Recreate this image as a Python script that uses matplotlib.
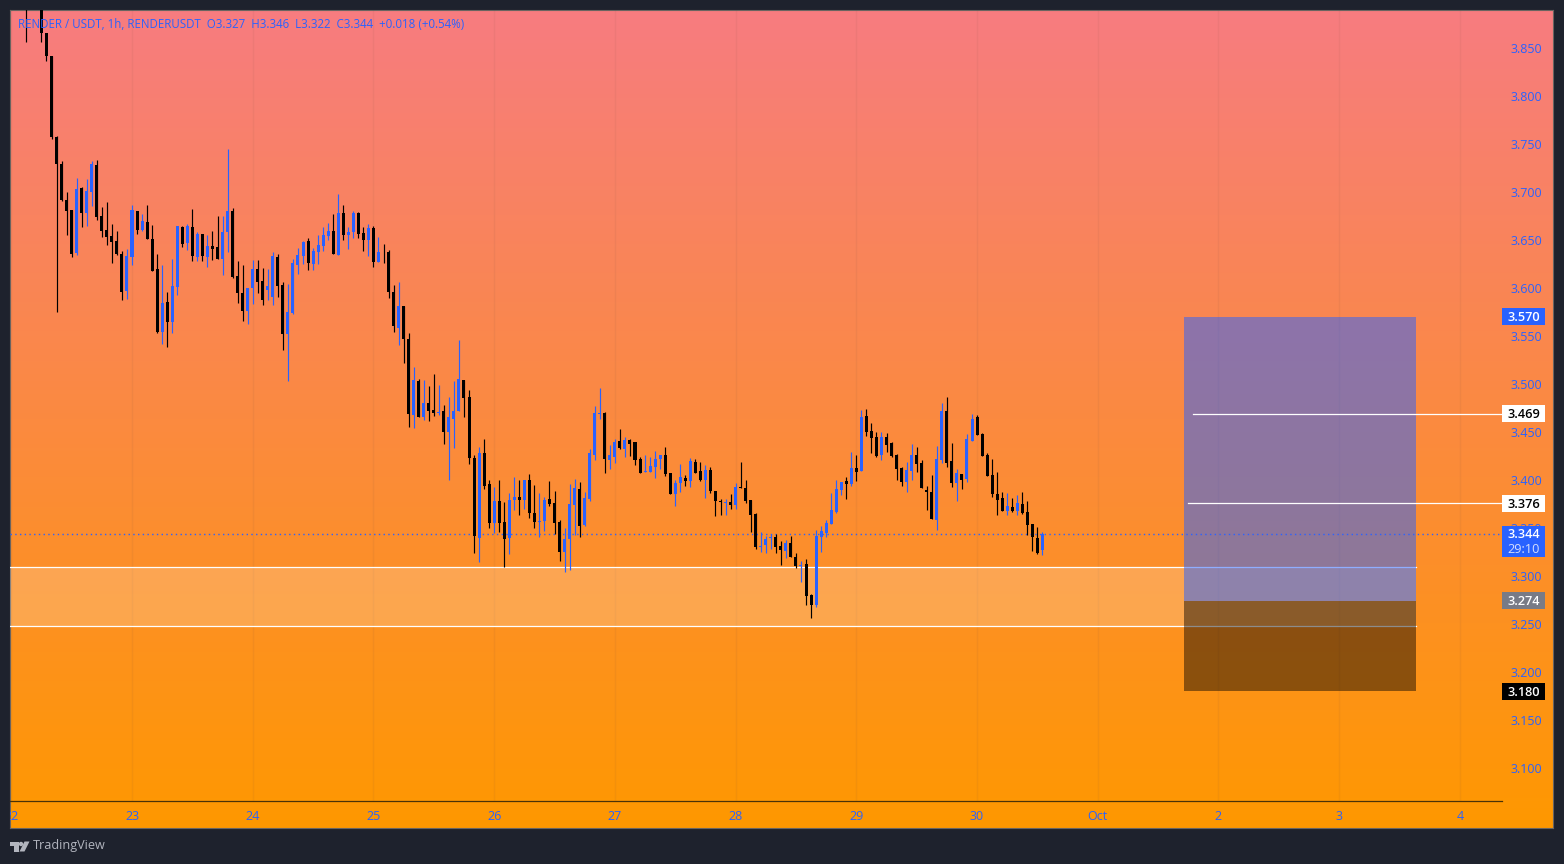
import numpy as np
import matplotlib
matplotlib.use('Agg')
import matplotlib.pyplot as plt
from matplotlib.patches import Rectangle, Circle, Polygon

plt.rcParams['font.family'] = ['Open Sans', 'DejaVu Sans']

# hourly candles, hour 0 = 23 Sep 00:00, last candle = 30 Sep 13:00
last_hour = 181
opens = [3.93,3.91,3.90,3.898,3.866,3.842,3.757,3.7295,3.692,3.681,3.636,3.704,3.678,3.70,3.728,3.675,3.66,3.654,3.649,3.6355,
 3.597,3.6325,3.68,3.66,3.669,3.651,3.62,3.5545,3.585,3.565,3.601,3.664,3.647,3.664,3.6325,3.656,3.6325,3.6435,3.6425,3.63,
 3.658,3.68,3.6125,3.595,3.576,3.60,3.62,3.607,3.598,3.5905,3.632,3.603,3.552,3.574,3.624,3.6333,3.649,3.625,3.6375,3.644,
 3.654,3.659,3.6345,3.678,3.655,3.658,3.678,3.6575,3.6505,3.662,3.6275,3.6375,3.637,3.5955,3.5583,3.5812,3.547,3.4677,3.5031,3.4656,
 3.4802,3.4729,3.4698,3.4719,3.45,3.4635,3.4719,3.504,3.4865,3.4229,3.3396,3.4281,3.3958,3.3552,3.3781,3.3562,3.3396,3.3792,3.3823,3.3792,
 3.40,3.3656,3.3562,3.3573,3.3802,3.376,3.3562,3.325,3.3385,3.374,3.3906,3.3531,3.3802,3.426,3.4688,3.4698,3.4208,3.424,3.4406,3.4323,
 3.4417,3.4396,3.4219,3.4083,3.4083,3.4135,3.4219,3.426,3.4073,3.3854,3.3969,3.4021,3.399,3.4188,3.4094,3.40,3.4104,3.3885,3.3781,3.376,
 3.377,3.374,3.3927,3.3917,3.3792,3.3646,3.3302,3.3323,3.3396,3.3406,3.3312,3.3261,3.3344,3.3198,3.3104,3.3125,3.2802,3.2698,3.3406,3.3448,
 3.3542,3.3667,3.3896,3.399,3.3958,3.4125,3.4094,3.4667,3.451,3.4448,3.426,3.4448,3.4385,3.426,3.4125,3.3979,3.4094,3.426,3.4177,3.3896,
 3.3875,3.3583,3.4208,3.4719,3.4198,3.3969,3.4062,3.401,3.4406,3.4656,3.4479,3.426,3.4052,3.3854,3.3812,3.3677,3.3719,3.3677,3.375,3.3667,
 3.3542,3.3396,3.327]
highs = [3.95,3.96,3.93,3.91,3.866,3.842,3.758,3.732,3.70,3.681,3.715,3.705,3.7135,3.732,3.733,3.684,3.69,3.667,3.659,3.6385,
 3.6405,3.6865,3.68,3.677,3.6865,3.666,3.6355,3.624,3.596,3.63,3.665,3.665,3.667,3.682,3.658,3.656,3.655,3.659,3.675,3.675,
 3.745,3.683,3.628,3.6235,3.60,3.629,3.629,3.621,3.62,3.6375,3.6355,3.606,3.604,3.63,3.6417,3.649,3.652,3.6417,3.655,3.664,
 3.6675,3.677,3.698,3.6865,3.6635,3.68,3.6795,3.6635,3.6665,3.6645,3.6535,3.646,3.64,3.6035,3.6063,3.5812,3.5531,3.5177,3.5052,3.5042,
 3.4979,3.5104,3.499,3.4781,3.4865,3.5031,3.5458,3.504,3.4937,3.426,3.4344,3.4427,3.40,3.3927,3.40,3.3771,3.3865,3.4031,3.40,3.40,
 3.4062,3.3948,3.3865,3.3823,3.399,3.3885,3.3583,3.35,3.3958,3.401,3.3979,3.3875,3.4323,3.4771,3.4958,3.4708,3.4365,3.4427,3.4531,3.4448,
 3.4427,3.4396,3.424,3.426,3.424,3.4302,3.426,3.434,3.4073,3.40,3.4167,3.4052,3.4229,3.4219,3.4187,3.4156,3.4135,3.3885,3.3802,3.3802,
 3.3854,3.3969,3.4187,3.40,3.3792,3.3656,3.3458,3.3417,3.3437,3.3437,3.3365,3.3375,3.3417,3.324,3.3156,3.3177,3.2812,3.3479,3.3521,3.3583,
 3.3865,3.40,3.3979,3.4031,3.4292,3.426,3.4729,3.474,3.4594,3.45,3.45,3.449,3.4396,3.4271,3.4135,3.4187,3.4375,3.4344,3.4208,3.3937,
 3.4052,3.4354,3.4802,3.4865,3.4385,3.4115,3.4062,3.4479,3.4687,3.4677,3.449,3.4281,3.4219,3.4083,3.3875,3.3865,3.3812,3.3844,3.3875,3.3781,
 3.3542,3.351,3.346]
lows = [3.8566,3.895,3.892,3.8566,3.836,3.755,3.575,3.691,3.655,3.632,3.634,3.664,3.665,3.685,3.671,3.653,3.645,3.626,3.634,3.5875,
 3.5885,3.624,3.656,3.659,3.651,3.618,3.553,3.542,3.539,3.553,3.593,3.643,3.64,3.6285,3.6285,3.6285,3.622,3.629,3.63,3.6135,
 3.638,3.6105,3.5845,3.566,3.563,3.583,3.595,3.582,3.5875,3.582,3.5905,3.5354,3.5035,3.573,3.6145,3.625,3.6188,3.619,3.625,3.639,
 3.65,3.635,3.6345,3.65,3.641,3.6525,3.6525,3.639,3.6335,3.6215,3.6275,3.6265,3.5895,3.5545,3.5406,3.5219,3.4552,3.4542,3.4656,3.4625,
 3.4615,3.4667,3.4677,3.4375,3.40,3.4333,3.4719,3.4656,3.4167,3.324,3.3146,3.3906,3.35,3.3448,3.3458,3.3097,3.3229,3.3687,3.3635,3.3698,
 3.3604,3.35,3.3406,3.3469,3.3729,3.3437,3.3156,3.3042,3.3062,3.3427,3.341,3.3521,3.3781,3.4208,3.4635,3.4073,3.4115,3.4177,3.4323,3.424,
 3.425,3.4156,3.4073,3.4083,3.4083,3.4021,3.4115,3.4042,3.3854,3.3729,3.3875,3.3937,3.3927,3.4073,3.399,3.3812,3.3865,3.3625,3.3635,3.3635,
 3.3698,3.3698,3.3917,3.376,3.3458,3.3281,3.325,3.324,3.3281,3.324,3.3115,3.3187,3.3198,3.3083,3.2937,3.2698,3.2562,3.2677,3.325,3.3406,
 3.3542,3.3656,3.3844,3.3802,3.3937,3.399,3.4094,3.4458,3.4281,3.424,3.4208,3.4292,3.424,3.40,3.3937,3.3875,3.40,3.4083,3.3917,3.3687,
 3.3594,3.3479,3.4177,3.4135,3.3927,3.3781,3.3906,3.3979,3.4406,3.4469,3.425,3.4042,3.3823,3.3635,3.3677,3.3635,3.3667,3.3635,3.3646,3.3427,
 3.326,3.3229,3.322]
closes = [3.91,3.90,3.898,3.866,3.842,3.757,3.7295,3.692,3.6805,3.635,3.703,3.678,3.701,3.7295,3.674,3.659,3.653,3.648,3.635,3.596,
 3.633,3.681,3.66,3.67,3.651,3.618,3.554,3.584,3.565,3.602,3.665,3.646,3.665,3.6335,3.656,3.6335,3.6435,3.641,3.63,3.658,
 3.68,3.6115,3.595,3.576,3.60,3.62,3.606,3.5875,3.602,3.633,3.602,3.552,3.575,3.626,3.634,3.648,3.626,3.639,3.645,3.6555,
 3.659,3.6355,3.678,3.655,3.658,3.678,3.6565,3.6495,3.662,3.6275,3.637,3.637,3.5955,3.56,3.5812,3.5469,3.4687,3.5042,3.4656,3.4802,
 3.4719,3.4698,3.4708,3.45,3.4656,3.4719,3.5052,3.4854,3.4229,3.3417,3.4281,3.3937,3.3552,3.3781,3.3552,3.3385,3.3792,3.3823,3.3792,3.40,
 3.3656,3.3562,3.3572,3.3792,3.375,3.3552,3.325,3.3385,3.375,3.3917,3.3521,3.3812,3.4281,3.4698,3.4698,3.4219,3.426,3.4396,3.4333,3.4417,
 3.4375,3.4208,3.4073,3.4094,3.4146,3.4219,3.426,3.4062,3.3854,3.3969,3.4031,3.399,3.4198,3.4073,3.40,3.4104,3.3885,3.3781,3.377,3.377,
 3.374,3.3927,3.3917,3.3781,3.3635,3.3302,3.3312,3.3385,3.3406,3.3302,3.3271,3.3344,3.3198,3.3104,3.3115,3.2792,3.2698,3.3417,3.3469,3.3552,
 3.3687,3.3906,3.3979,3.3958,3.4125,3.4083,3.4656,3.45,3.4437,3.425,3.4448,3.4365,3.425,3.4115,3.3979,3.4104,3.426,3.4167,3.3917,3.3875,
 3.3594,3.4219,3.4719,3.4177,3.3969,3.4073,3.40,3.4427,3.4635,3.4469,3.425,3.4042,3.3854,3.3792,3.3677,3.3729,3.3677,3.376,3.3656,3.3531,
 3.3406,3.324,3.344]

day_ticks = [-24,0,24,48,72,96,120,144,168,192,216,240,264]
day_labels = ['22','23','24','25','26','27','28','29','30','Oct','2','3','4']
price_ticks = [3.10,3.15,3.20,3.25,3.30,3.35,3.40,3.45,3.50,3.55,3.60,3.65,3.70,3.75,3.80,3.85]

zone_low, zone_high = 3.248, 3.309
target, entry, stop = 3.570, 3.274, 3.180
last_price = 3.344
mid_levels = [(3.469, 211.0), (3.376, 210.0)]
box_start, box_end = 209.1, 255.3

header = 'RENDER / USDT, 1h, RENDERUSDT  O3.327  H3.346  L3.322  C3.344  +0.018 (+0.54%)'

BLUE = '#2962ff'
PX_PER_HOUR = 5.03
W, H = 1564, 864

fig = plt.figure(figsize=(W/100, H/100), dpi=100, facecolor='#1e222d')

def rect(l, t, r, b):
    return [l/W, 1-b/H, (r-l)/W, (b-t)/H]

# gradient panel behind everything
bg = fig.add_axes(rect(10, 10, 1553, 828), zorder=0)
c1 = np.array(matplotlib.colors.to_rgb('#f77c80'))
c2 = np.array(matplotlib.colors.to_rgb('#ff9800'))
t = np.linspace(0, 1, 400)[:, None, None]
bg.imshow(c1[None, None, :]*(1-t) + c2[None, None, :]*t, aspect='auto', extent=(0, 1, 0, 1))
bg.set_xticks([])
bg.set_yticks([])
for s in bg.spines.values():
    s.set_color('#6a6460')
    s.set_linewidth(0.8)

ax = fig.add_axes(rect(10, 10, 1502, 801), zorder=1)
ax.patch.set_visible(False)
ax.set_xlim((10-132)/PX_PER_HOUR, (1502-132)/PX_PER_HOUR)
ax.set_ylim(3.85-753/960, 3.85+38/960)
ax.set_axisbelow(True)
for k in ['top', 'left', 'right']:
    ax.spines[k].set_visible(False)
ax.spines['bottom'].set_color('#4a3208')
ax.spines['bottom'].set_linewidth(0.9)

ax.set_xticks(day_ticks)
ax.set_xticklabels(day_labels)
ax.set_yticks(price_ticks)
ax.set_yticklabels(['%.3f' % p for p in price_ticks])
ax.yaxis.tick_right()
ax.tick_params(axis='x', length=0, pad=6.7, labelsize=9, labelcolor=BLUE)
ax.tick_params(axis='y', length=0, pad=5.8, labelsize=9, labelcolor=BLUE)
ax.xaxis.grid(True, color='#6b4a40', alpha=0.07, linewidth=1)
for lab in ax.get_xticklabels():
    lab.set_clip_on(True)
    lab.set_clip_box(bg.bbox)

# support zone
x_left = ax.get_xlim()[0]
ax.add_patch(Rectangle((x_left, zone_low), box_end-x_left, zone_high-zone_low, facecolor='white', alpha=0.2, edgecolor='none', zorder=1))
ax.plot([x_left, box_end], [zone_high, zone_high], color='white', lw=0.9, zorder=1.2)
ax.plot([x_left, box_end], [zone_low, zone_low], color='white', lw=0.9, zorder=1.2)

# long position box
ax.add_patch(Rectangle((box_start, entry), box_end-box_start, target-entry, facecolor=BLUE, alpha=0.52, edgecolor='none', zorder=1.5))
ax.add_patch(Rectangle((box_start, stop), box_end-box_start, entry-stop, facecolor='black', alpha=0.45, edgecolor='none', zorder=1.5))

# candles
n = len(closes)
hours = np.arange(last_hour-n+1, last_hour+1)
o = np.array(opens)
h = np.array(highs)
l = np.array(lows)
c = np.array(closes)
colors = [BLUE if c[i] > o[i] else 'black' for i in range(n)]
ax.vlines(hours, l, h, colors=colors, linewidth=0.85, zorder=3)
ax.bar(hours, np.maximum(np.abs(c-o), 0.0009), bottom=np.minimum(o, c), width=0.6, color=colors, linewidth=0, zorder=3.1)

# last price and level lines
xr = ax.get_xlim()[1]
ax.plot([x_left, xr], [last_price, last_price], color=BLUE, lw=1, ls=(0, (1, 2.4)), zorder=2.5)
for lv, start in mid_levels:
    ax.plot([start, xr], [lv, lv], color='white', lw=0.9, zorder=2.5)

# price tags on the scale
tr = ax.get_yaxis_transform()
def tag(price, face, fg, txt=None, top=8.5, bottom=8.5):
    x0, w = 1.0, 43/1492
    ax.add_patch(Rectangle((x0, price-bottom/960), w, (top+bottom)/960, transform=tr, facecolor=face, edgecolor='none', clip_on=False, zorder=6))
    ax.text(x0+w/2, price-1/960, txt or '%.3f' % price, transform=tr, color=fg, fontsize=9.2, fontweight='semibold', ha='center', va='center', zorder=7, clip_on=False)

tag(target, BLUE, 'white')
tag(mid_levels[0][0], 'white', 'black')
tag(mid_levels[1][0], 'white', 'black')
tag(last_price, BLUE, 'white', top=8, bottom=23)
ax.text(1+21.5/1492, last_price-15.5/960, '29:10', transform=tr, color='#d5defc', fontsize=9.2, ha='center', va='center', zorder=7, clip_on=False)
tag(entry, '#787b86', 'white')
tag(stop, 'black', 'white')

ax.text(18/W, 1-24.5/H, header, transform=fig.transFigure, color=BLUE, fontsize=8.3, ha='left', va='center', zorder=8)

# footer logo and name
ov = fig.add_axes([0, 0, 1, 1], zorder=5)
ov.set_xlim(0, W)
ov.set_ylim(H, 0)
ov.axis('off')
LOGO = '#b2b5be'
ov.add_patch(Polygon([(10, 841.5), (18.5, 841.5), (18.5, 851.5), (14, 851.5), (14, 846), (10, 846)], color=LOGO, lw=0))
ov.add_patch(Circle((21, 844), 2.2, color=LOGO, lw=0))
ov.add_patch(Polygon([(24.5, 841.5), (29.5, 841.5), (24.5, 851.5), (19.5, 851.5)], color=LOGO, lw=0))
ov.text(33, 846, 'TradingView', color=LOGO, fontsize=9.1, ha='left', va='center')

fig.savefig('out.png', dpi=100, facecolor=fig.get_facecolor())
